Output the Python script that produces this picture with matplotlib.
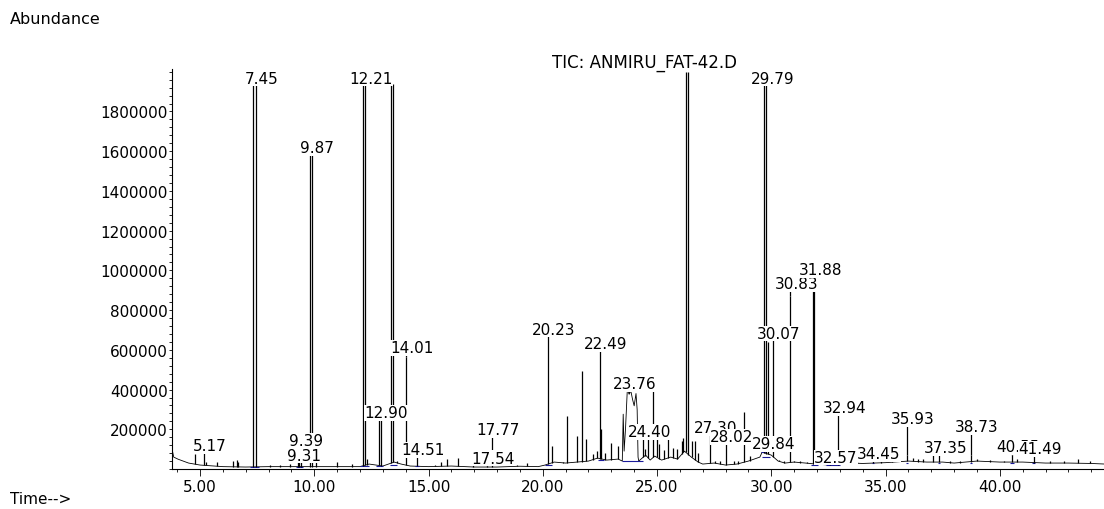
import numpy as np
import matplotlib.pyplot as plt
from matplotlib.ticker import MultipleLocator, FormatStrFormatter

plt.rcParams['font.family'] = ['DejaVu Sans']

# TIC trace baseline (min, abundance), includes the broad hump near 23.8 min
base_t = [3.78, 3.85, 4.05, 4.5, 5.0, 6.0, 7.0, 8.0, 9.0, 10.0, 11.0, 12.0, 12.4, 13.0,
          13.5, 13.8, 14.2, 15.0, 16.0, 17.0, 18.0, 19.0, 19.8, 20.1, 20.5, 21.0, 21.5,
          22.0, 22.4, 22.8, 23.3, 23.48, 23.52, 23.56, 23.62, 23.70, 23.78, 23.85, 23.93,
          24.00, 24.08, 24.13, 24.17, 24.2, 24.5, 24.7, 24.9, 25.2, 25.6, 25.9, 26.2,
          26.5, 26.8, 27.0, 27.5, 28.0, 28.5, 29.0, 29.5, 29.6, 30.0, 30.3, 30.6, 31.0,
          31.5, 31.95, 32.5, 33.0, 33.5, 34.0, 35.0, 36.0, 36.8, 37.5, 38.0, 39.0, 40.0,
          41.0, 42.0, 43.0, 44.0, 44.6]
base_y = [99e3, 60e3, 49e3, 30e3, 20e3, 12e3, 10e3, 12e3, 12e3, 12e3, 12e3, 12e3, 25e3, 15e3,
          35e3, 25e3, 15e3, 12e3, 15e3, 10e3, 10e3, 14e3, 12e3, 20e3, 35e3, 30e3, 35e3,
          40e3, 55e3, 45e3, 50e3, 40e3, 276e3, 90e3, 200e3, 400e3, 376e3, 395e3, 350e3,
          318e3, 380e3, 300e3, 60e3, 40e3, 70e3, 45e3, 65e3, 45e3, 60e3, 50e3, 90e3,
          60e3, 35e3, 25e3, 30e3, 20e3, 25e3, 40e3, 60e3, 85e3, 70e3, 40e3, 30e3, 35e3,
          30e3, 25e3, 20e3, 22e3, 30e3, 28e3, 32e3, 40e3, 35e3, 35e3, 30e3, 40e3, 35e3,
          35e3, 30e3, 30e3, 28e3, 25e3]

# peaks: retention time (min) and apex abundance
peak_rt = [4.78, 5.17, 5.26, 5.73, 6.43, 6.60, 6.67, 7.33, 7.45, 8.06, 8.50, 8.94, 9.27,
           9.34, 9.42, 9.83, 9.90, 10.06, 10.98, 11.64, 12.13, 12.21, 12.32, 12.82, 12.90,
           13.36, 13.46, 13.60, 14.01, 14.48, 15.28, 15.55, 15.80, 16.30, 16.95, 17.54,
           17.77, 18.87, 19.30, 20.23, 20.39, 20.90, 21.05, 21.49, 21.73, 21.89, 22.21,
           22.36, 22.49, 22.55, 22.72, 22.97, 23.31, 24.38, 24.48, 24.62, 24.84, 24.99,
           25.10, 25.30, 25.49, 25.71, 25.86, 26.08, 26.15, 26.25, 26.37, 26.52, 26.66,
           26.81, 27.30, 27.55, 27.75, 28.02, 28.35, 28.55, 28.82, 29.07, 29.66, 29.79,
           29.86, 30.07, 30.35, 30.55, 30.83, 31.00, 31.25, 31.55, 31.81, 31.88, 32.57,
           32.94, 33.35, 33.75, 34.45, 34.80, 35.30, 35.93, 36.22, 36.44, 36.66, 37.07,
           37.35, 37.80, 38.25, 38.73, 38.99, 39.57, 40.20, 40.55, 40.74, 41.49, 42.20,
           42.80, 43.44, 43.95]
peak_h = [74e3, 86e3, 34e3, 35e3, 40e3, 45e3, 34e3, 1940e3, 1940e3, 20e3, 20e3, 24e3, 52e3,
          52e3, 49e3, 1585e3, 1585e3, 49e3, 34e3, 25e3, 1940e3, 1940e3, 49e3, 250e3, 250e3,
          1940e3, 1940e3, 40e3, 563e3, 62e3, 22e3, 35e3, 49e3, 57e3, 18e3, 16e3,
          18e3, 20e3, 29e3, 678e3, 116e3, 34e3, 267e3, 166e3, 494e3, 153e3, 74e3,
          91e3, 598e3, 200e3, 83e3, 129e3, 116e3, 150e3, 99e3, 158e3, 401e3, 150e3,
          124e3, 95e3, 158e3, 108e3, 99e3, 141e3, 158e3, 2000e3, 2000e3, 141e3, 141e3,
          83e3, 133e3, 40e3, 40e3, 134e3, 40e3, 40e3, 285e3, 65e3, 1940e3, 1940e3,
          640e3, 653e3, 45e3, 40e3, 869e3, 40e3, 40e3, 35e3, 960e3, 960e3, 35e3,
          40e3, 35e3, 35e3, 60e3, 45e3, 45e3, 69e3, 57e3, 52e3, 52e3, 74e3,
          69e3, 42e3, 40e3, 69e3, 52e3, 44e3, 42e3, 69e3, 48e3, 69e3, 40e3,
          38e3, 52e3, 40e3]

# peak labels and the abundance level where each label sits
label_txt = ['5.17', '7.45', '9.31', '9.39', '9.87', '12.21', '12.90', '14.01', '14.51',
             '17.54', '17.77', '20.23', '22.49', '23.76', '24.40', '27.30', '28.02',
             '29.79', '29.84', '30.07', '30.83', '31.88', '32.57', '32.94', '34.45',
             '35.93', '37.35', '38.73', '40.55', '41.49']
label_y = [124e3, 1973e3, 78e3, 152e3, 1625e3, 1973e3, 291e3, 617e3, 104e3,
           62e3, 205e3, 709e3, 638e3, 437e3, 195e3, 215e3, 170e3,
           1973e3, 134e3, 689e3, 940e3, 1010e3, 66e3, 316e3, 84e3,
           260e3, 114e3, 220e3, 119e3, 109e3]

# integration baselines (blue)
intg_start = [7.20, 9.20, 12.00, 12.70, 13.30, 14.40, 20.10, 22.40, 23.45, 29.55, 29.60,
              31.75, 32.40, 34.40, 35.88, 37.30, 38.68, 40.45, 41.42]
intg_end = [7.60, 9.50, 12.40, 13.00, 13.60, 14.60, 20.40, 22.70, 24.40, 29.75, 29.95,
            32.05, 33.00, 34.50, 36.00, 37.40, 38.80, 40.62, 41.55]
intg_level = [10e3, 12e3, 14e3, 15e3, 20e3, 13e3, 22e3, 45e3, 40e3, 85e3, 60e3,
              22e3, 20e3, 28e3, 30e3, 30e3, 30e3, 32e3, 32e3]

fig = plt.figure(figsize=(11.04, 5.10), dpi=100)
ax = fig.add_axes([0.1558, 0.0784, 0.8442, 0.7843])
ax.set_xlim(3.775, 44.56)
ax.set_ylim(0, 2.0136e6)

ax.plot(base_t, base_y, color='black', lw=0.6, zorder=2)
feet = np.interp(peak_rt, base_t, base_y)
ax.vlines(peak_rt, feet, peak_h, color='black', lw=0.9, zorder=3)
ax.hlines(intg_level, intg_start, intg_end, color='#1a1a9a', lw=0.8, zorder=2.5)

# labels with white boxes, later ones cover earlier ones
for i, (txt, ly) in enumerate(zip(label_txt, label_y)):
    rt = float(txt)
    near = [h for r, h in zip(peak_rt, peak_h) if abs(r - rt) < 0.05]
    apex = max(near) if near else float(np.interp(rt, base_t, base_y))
    if apex < ly:
        ax.vlines(rt, apex, ly, color='black', lw=0.9, zorder=3)
    ax.annotate(txt, (rt, ly), xytext=(6, 0), textcoords='offset pixels',
                ha='center', va='center_baseline', fontsize=11, zorder=10 + i,
                bbox=dict(boxstyle='square,pad=0.02', fc='white', ec='none'))

for s in ['top', 'right']:
    ax.spines[s].set_visible(False)
ax.spines['left'].set_linewidth(0.8)
ax.spines['bottom'].set_linewidth(0.8)

ax.set_yticks(np.arange(200000, 1800001, 200000))
ax.yaxis.set_major_formatter(FormatStrFormatter('%d'))
ax.yaxis.set_minor_locator(MultipleLocator(40000))
ax.set_xticks(np.arange(5, 41, 5))
ax.xaxis.set_major_formatter(FormatStrFormatter('%.2f'))
ax.xaxis.set_minor_locator(MultipleLocator(1))
ax.tick_params(axis='y', which='both', direction='out', length=2.5, width=0.6,
               pad=0.5, labelsize=11)
ax.tick_params(axis='x', which='major', direction='out', length=5, width=0.6,
               pad=2, labelsize=11)
ax.tick_params(axis='x', which='minor', direction='out', length=2.5, width=0.6)

fig.text(10 / 1104, 1 - 20 / 510, 'Abundance', fontsize=11.5, va='center', ha='left')
fig.text(644 / 1104, 1 - 63 / 510, 'TIC: ANMIRU_FAT-42.D', fontsize=12,
         va='center', ha='center')
fig.text(10 / 1104, 1 - 500 / 510, 'Time-->', fontsize=11, va='center', ha='left')

fig.savefig('out.png', dpi=100)
